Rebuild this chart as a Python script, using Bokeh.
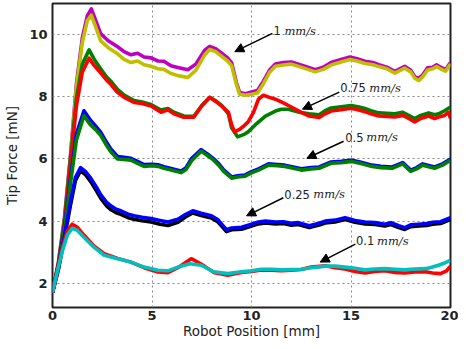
from bokeh.plotting import figure
from bokeh.models import Range1d, FixedTicker, Arrow, NormalHead, Label
from bokeh.embed import file_html
from bokeh.resources import INLINE

# ---------------- data ----------------
# 1 mm/s
x_1 = [0, 0.3, 0.6, 0.9, 1.2, 1.5, 1.75, 1.95, 2.17, 2.42, 2.8, 3.27, 3.6, 3.94, 4.28, 4.6,
       4.95, 5.3, 5.6, 5.95, 6.3, 6.8, 7.2, 7.65, 7.9, 8.2, 8.5, 8.8, 9.0, 9.24, 9.4, 9.7,
       10.0, 10.3, 10.6, 10.9, 11.2, 11.6, 12.0, 12.6, 13.2, 13.6, 14.0, 14.5, 14.95, 15.3,
       15.7, 16.1, 16.4, 16.8, 17.2, 17.45, 17.7, 18.0, 18.2, 18.4, 18.6, 18.85, 19.1, 19.3,
       19.5, 19.75, 20.0]
y_1_magenta = [1.7, 2.7, 4.1, 6.1, 8.4, 9.9, 10.6, 10.83, 10.46, 10.03, 9.8, 9.61, 9.45, 9.35,
               9.4, 9.28, 9.25, 9.15, 9.14, 9.0, 8.94, 8.87, 9.05, 9.5, 9.62, 9.55, 9.4, 9.25,
               9.1, 8.46, 8.14, 8.1, 8.15, 8.2, 8.5, 8.85, 9.05, 9.1, 9.12, 9.0, 8.87, 8.95,
               9.1, 9.2, 9.28, 9.22, 9.14, 9.1, 9.03, 8.95, 8.82, 8.9, 8.98, 8.85, 8.65, 8.59,
               8.7, 8.93, 8.95, 9.03, 8.95, 8.87, 9.1]
y_1_yellow = [1.7, 2.65, 4.0, 6.0, 8.3, 9.75, 10.45, 10.62, 10.25, 9.8, 9.58, 9.38, 9.2, 9.1,
              9.15, 9.03, 8.98, 8.9, 8.88, 8.75, 8.68, 8.62, 8.85, 9.35, 9.52, 9.45, 9.3, 9.15,
              9.0, 8.4, 8.08, 8.05, 8.08, 8.12, 8.42, 8.78, 8.98, 9.02, 9.05, 8.93, 8.8, 8.88,
              9.02, 9.12, 9.2, 9.15, 9.07, 9.03, 8.97, 8.9, 8.76, 8.84, 8.92, 8.8, 8.6, 8.52,
              8.64, 8.86, 8.9, 8.97, 8.9, 8.82, 9.05]

# 0.75 mm/s
x_075_red = [0, 0.3, 0.6, 0.9, 1.2, 1.5, 1.84, 2.1, 2.42, 2.7, 2.93, 3.25, 3.6, 4.1, 4.5, 4.95,
             5.45, 5.8, 6.1, 6.6, 7.1, 7.5, 7.9, 8.2, 8.5, 8.84, 9.0, 9.15, 9.4, 9.6, 9.83,
             10.1, 10.35, 10.6, 10.9, 11.2, 11.6, 12.0, 12.5, 12.9, 13.4, 13.7, 14.0, 14.5,
             15.0, 15.35, 15.7, 16.0, 16.4, 16.8, 17.2, 17.6, 17.9, 18.2, 18.5, 18.9, 19.2,
             19.4, 19.7, 19.9, 20.0]
y_075_red = [1.7, 2.6, 3.9, 5.8, 7.7, 8.8, 9.24, 9.0, 8.77, 8.55, 8.4, 8.15, 7.98, 7.82, 7.78,
             7.7, 7.5, 7.58, 7.45, 7.34, 7.34, 7.7, 7.98, 7.85, 7.7, 7.5, 7.1, 6.87, 6.95,
             7.05, 7.19, 7.5, 7.92, 8.05, 7.98, 7.92, 7.8, 7.67, 7.5, 7.38, 7.33, 7.45, 7.54,
             7.58, 7.63, 7.58, 7.52, 7.45, 7.38, 7.37, 7.35, 7.4, 7.3, 7.19, 7.3, 7.38, 7.3,
             7.35, 7.4, 7.5, 7.3]
x_075_green = [0, 0.3, 0.6, 0.9, 1.2, 1.5, 1.84, 2.1, 2.42, 2.7, 2.93, 3.25, 3.6, 4.1, 4.5,
               4.95, 5.45, 5.8, 6.1, 6.6, 7.1, 7.5, 7.9, 8.2, 8.5, 8.84, 9.0, 9.3, 9.6, 9.83,
               10.2, 10.7, 11.2, 11.5, 11.85, 12.4, 12.9, 13.4, 13.7, 14.0, 14.5, 15.0, 15.35,
               15.7, 16.0, 16.4, 16.8, 17.2, 17.6, 17.9, 18.2, 18.5, 18.9, 19.2, 19.4, 19.7,
               20.0]
y_075_green = [1.7, 2.65, 4.0, 6.0, 7.95, 9.05, 9.51, 9.2, 8.9, 8.65, 8.5, 8.25, 8.05, 7.88,
               7.83, 7.75, 7.57, 7.62, 7.5, 7.38, 7.37, 7.72, 7.98, 7.87, 7.72, 7.45, 7.0,
               6.71, 6.78, 6.87, 7.1, 7.38, 7.54, 7.6, 7.6, 7.5, 7.45, 7.42, 7.55, 7.64, 7.68,
               7.72, 7.68, 7.62, 7.55, 7.48, 7.47, 7.45, 7.5, 7.4, 7.3, 7.4, 7.48, 7.42, 7.45,
               7.55, 7.67]

# 0.5 mm/s
x_05 = [0, 0.3, 0.6, 0.9, 1.2, 1.58, 1.9, 2.15, 2.42, 2.7, 2.93, 3.27, 3.6, 3.94, 4.3, 4.6,
        5.0, 5.3, 5.6, 5.96, 6.2, 6.46, 6.7, 7.0, 7.47, 7.8, 8.1, 8.35, 8.6, 9.0, 9.3, 9.66,
        10.0, 10.35, 10.86, 11.3, 11.67, 12.1, 12.5, 13.0, 13.4, 14.0, 14.5, 15.05, 15.5,
        16.06, 16.5, 17.07, 17.6, 18.0, 18.3, 18.6, 18.9, 19.2, 19.6, 20.0]
y_05_green = [1.7, 2.55, 3.7, 5.2, 6.6, 7.39, 7.1, 6.95, 6.76, 6.45, 6.23, 6.0, 5.98, 5.96,
              5.85, 5.76, 5.78, 5.76, 5.7, 5.64, 5.6, 5.56, 5.65, 5.95, 6.25, 6.1, 5.96, 5.8,
              5.6, 5.38, 5.42, 5.44, 5.55, 5.64, 5.8, 5.78, 5.76, 5.7, 5.64, 5.68, 5.7, 5.86,
              5.88, 5.92, 5.85, 5.76, 5.72, 5.7, 5.84, 5.6, 5.68, 5.8, 5.75, 5.7, 5.8, 5.96]
y_05_blue = [1.7, 2.6, 3.8, 5.35, 6.8, 7.55, 7.25, 7.07, 6.86, 6.55, 6.32, 6.08, 6.05, 6.02,
             5.91, 5.82, 5.83, 5.81, 5.75, 5.69, 5.65, 5.61, 5.71, 6.02, 6.3, 6.15, 6.0, 5.85,
             5.65, 5.42, 5.46, 5.48, 5.59, 5.68, 5.84, 5.82, 5.8, 5.74, 5.68, 5.72, 5.74, 5.9,
             5.92, 5.96, 5.89, 5.8, 5.76, 5.74, 5.88, 5.64, 5.72, 5.84, 5.79, 5.74, 5.84, 6.0]

# 0.25 mm/s
x_025 = [0, 0.3, 0.6, 0.9, 1.15, 1.41, 1.65, 1.92, 2.2, 2.42, 2.7, 2.93, 3.2, 3.43, 3.8, 4.1,
         4.5, 4.95, 5.4, 5.8, 6.3, 6.7, 7.05, 7.47, 7.98, 8.3, 8.5, 8.74, 9.0, 9.5, 10.0,
         10.35, 10.7, 11.2, 11.6, 12.0, 12.35, 12.9, 13.4, 13.7, 14.2, 14.7, 15.2, 15.7,
         16.2, 16.7, 17.0, 17.4, 17.7, 18.0, 18.4, 18.8, 19.1, 19.5, 20.0]
y_025_black = [1.7, 2.45, 3.45, 4.5, 5.3, 5.62, 5.5, 5.27, 4.98, 4.74, 4.5, 4.37, 4.27, 4.22,
               4.11, 4.06, 4.01, 3.97, 3.9, 3.86, 3.96, 4.14, 4.26, 4.18, 4.1, 3.98, 3.84,
               3.66, 3.72, 3.74, 3.84, 3.91, 3.94, 3.91, 3.92, 3.87, 3.89, 3.79, 3.87, 3.94,
               3.97, 4.05, 3.96, 3.91, 3.89, 3.84, 3.89, 3.79, 3.73, 3.82, 3.84, 3.86, 3.9,
               3.92, 4.05]
y_025_blue = [1.7, 2.5, 3.5, 4.6, 5.4, 5.72, 5.6, 5.38, 5.1, 4.85, 4.62, 4.49, 4.38, 4.33,
              4.22, 4.17, 4.12, 4.08, 4.02, 3.97, 4.06, 4.22, 4.33, 4.25, 4.17, 4.05, 3.9,
              3.72, 3.78, 3.8, 3.9, 3.97, 4.0, 3.97, 3.98, 3.93, 3.95, 3.85, 3.93, 4.0, 4.03,
              4.11, 4.02, 3.97, 3.95, 3.9, 3.95, 3.85, 3.79, 3.88, 3.9, 3.92, 3.96, 3.98, 4.11]

# 0.1 mm/s
x_01_cyan = [0, 0.25, 0.5, 0.75, 0.99, 1.25, 1.58, 2.08, 2.6, 3.27, 3.94, 4.6, 5.3, 5.8, 6.3,
             6.9, 7.47, 8.1, 8.8, 9.5, 10.0, 10.5, 11.0, 11.5, 12.0, 12.5, 13.0, 13.7, 14.2,
             14.7, 15.2, 15.7, 16.2, 16.7, 17.2, 17.7, 18.2, 18.75, 19.1, 19.4, 19.7, 20.0]
y_01_cyan = [1.7, 2.4, 3.05, 3.55, 3.77, 3.7, 3.48, 3.16, 2.9, 2.79, 2.68, 2.52, 2.42, 2.4,
             2.52, 2.63, 2.58, 2.37, 2.31, 2.37, 2.4, 2.45, 2.45, 2.43, 2.44, 2.45, 2.5, 2.55,
             2.55, 2.52, 2.48, 2.43, 2.46, 2.47, 2.45, 2.43, 2.46, 2.47, 2.52, 2.58, 2.65, 2.74]
x_01_red = [0, 0.25, 0.5, 0.75, 0.99, 1.25, 1.58, 2.08, 2.6, 3.27, 3.94, 4.6, 5.3, 5.8, 6.3,
            6.97, 7.47, 8.1, 8.8, 9.5, 10.0, 10.5, 11.0, 11.5, 12.0, 12.5, 13.0, 13.7, 14.2,
            14.7, 15.2, 15.7, 16.2, 16.7, 17.2, 17.7, 18.2, 18.75, 19.1, 19.5, 19.8, 20.0]
y_01_red = [1.7, 2.45, 3.15, 3.68, 3.9, 3.8, 3.55, 3.2, 2.95, 2.8, 2.68, 2.5, 2.36, 2.34, 2.5,
            2.79, 2.62, 2.35, 2.26, 2.35, 2.38, 2.43, 2.42, 2.4, 2.42, 2.44, 2.52, 2.56, 2.5,
            2.46, 2.38, 2.33, 2.38, 2.4, 2.35, 2.33, 2.36, 2.37, 2.33, 2.31, 2.4, 2.55]

x_ticks = [0, 5, 10, 15, 20]
y_ticks = [2, 4, 6, 8, 10]
x_title = "Robot Position [mm]"
y_title = "Tip Force [mN]"

# annotations: number, unit, text anchor (x, y), arrow start, arrow tip
ann_numbers = ["1", "0.75", "0.5", "0.25", "0.1"]
ann_unit = "mm/s"
ann_text_x = [11.1, 14.46, 14.71, 11.65, 15.25]
ann_text_y = [10.12, 8.29, 6.7, 4.87, 3.37]
ann_unit_offset = [11, 29, 21, 29, 21]
ann_arrow_x0 = [11.05, 14.41, 14.63, 11.6, 15.22]
ann_arrow_y0 = [10.04, 8.15, 6.57, 4.75, 3.26]
ann_arrow_x1 = [9.16, 12.56, 12.78, 9.75, 13.45]
ann_arrow_y1 = [9.45, 7.6, 6.02, 4.17, 2.68]

# ---------------- figure ----------------
X0, X1, Y0, Y1 = 0, 20, 1.22, 11.0
p = figure(width=458, height=341, output_backend="svg", toolbar_location=None,
           x_range=Range1d(X0, X1), y_range=Range1d(Y0, Y1),
           min_border_left=52, min_border_right=8, min_border_top=3, min_border_bottom=0)

p.background_fill_color = "white"
p.border_fill_color = "white"
p.outline_line_color = "#222222"
p.outline_line_width = 2

LW = 3.6
series = [
    (x_1, y_1_magenta, "#bf00bf"),
    (x_1, y_1_yellow, "#bfbf00"),
    (x_075_green, y_075_green, "#008000"),
    (x_075_red, y_075_red, "#ff0000"),
    (x_05, y_05_blue, "#0000ff"),
    (x_05, y_05_green, "#008000"),
    (x_025, y_025_black, "#000000"),
    (x_025, y_025_blue, "#0000ff"),
    (x_01_red, y_01_red, "#ff0000"),
    (x_01_cyan, y_01_cyan, "#00bfbf"),
]
for xs, ys, c in series:
    p.line(xs, ys, line_color=c, line_width=LW, line_join="round")

for ax in (p.xaxis, p.yaxis):
    ax.axis_line_color = None
    ax.major_tick_line_color = None
    ax.minor_tick_line_color = None
    ax.major_tick_out = 0
    ax.major_tick_in = 0
    ax.minor_tick_out = 0
    ax.minor_tick_in = 0
    ax.major_label_text_font = "DejaVu Sans"
    ax.major_label_text_font_size = "13px"
    ax.major_label_text_font_style = "bold"
    ax.major_label_text_color = "#222222"
    ax.axis_label_text_font = "DejaVu Sans"
    ax.axis_label_text_font_size = "13.5px"
    ax.axis_label_text_font_style = "normal"
    ax.axis_label_text_color = "#222222"

p.xaxis.ticker = FixedTicker(ticks=x_ticks)
p.yaxis.ticker = FixedTicker(ticks=y_ticks)
p.xaxis.major_label_standoff = 3
p.yaxis.major_label_standoff = 5
p.xaxis.axis_label = x_title
p.yaxis.axis_label = y_title
p.xaxis.axis_label_standoff = 0
p.yaxis.axis_label_standoff = 6

for g in (p.xgrid, p.ygrid):
    g.grid_line_color = "#888888"
    g.grid_line_dash = "2 3"
    g.grid_line_width = 1

for i in range(len(ann_numbers)):
    p.add_layout(Arrow(end=NormalHead(size=9, fill_color="black", line_color="black"),
                       x_start=ann_arrow_x0[i], y_start=ann_arrow_y0[i],
                       x_end=ann_arrow_x1[i], y_end=ann_arrow_y1[i],
                       line_color="black", line_width=1.5))
    p.add_layout(Label(x=ann_text_x[i], y=ann_text_y[i], text=ann_numbers[i],
                       text_font="DejaVu Sans", text_font_size="11.5px",
                       text_baseline="middle", text_align="left", text_color="#222222"))
    p.add_layout(Label(x=ann_text_x[i], y=ann_text_y[i], x_offset=ann_unit_offset[i],
                       text=ann_unit, text_font="DejaVu Serif", text_font_style="italic",
                       text_font_size="11.5px", text_baseline="middle", text_align="left",
                       text_color="#222222"))

open("out.html", "w").write(file_html(p, INLINE))
